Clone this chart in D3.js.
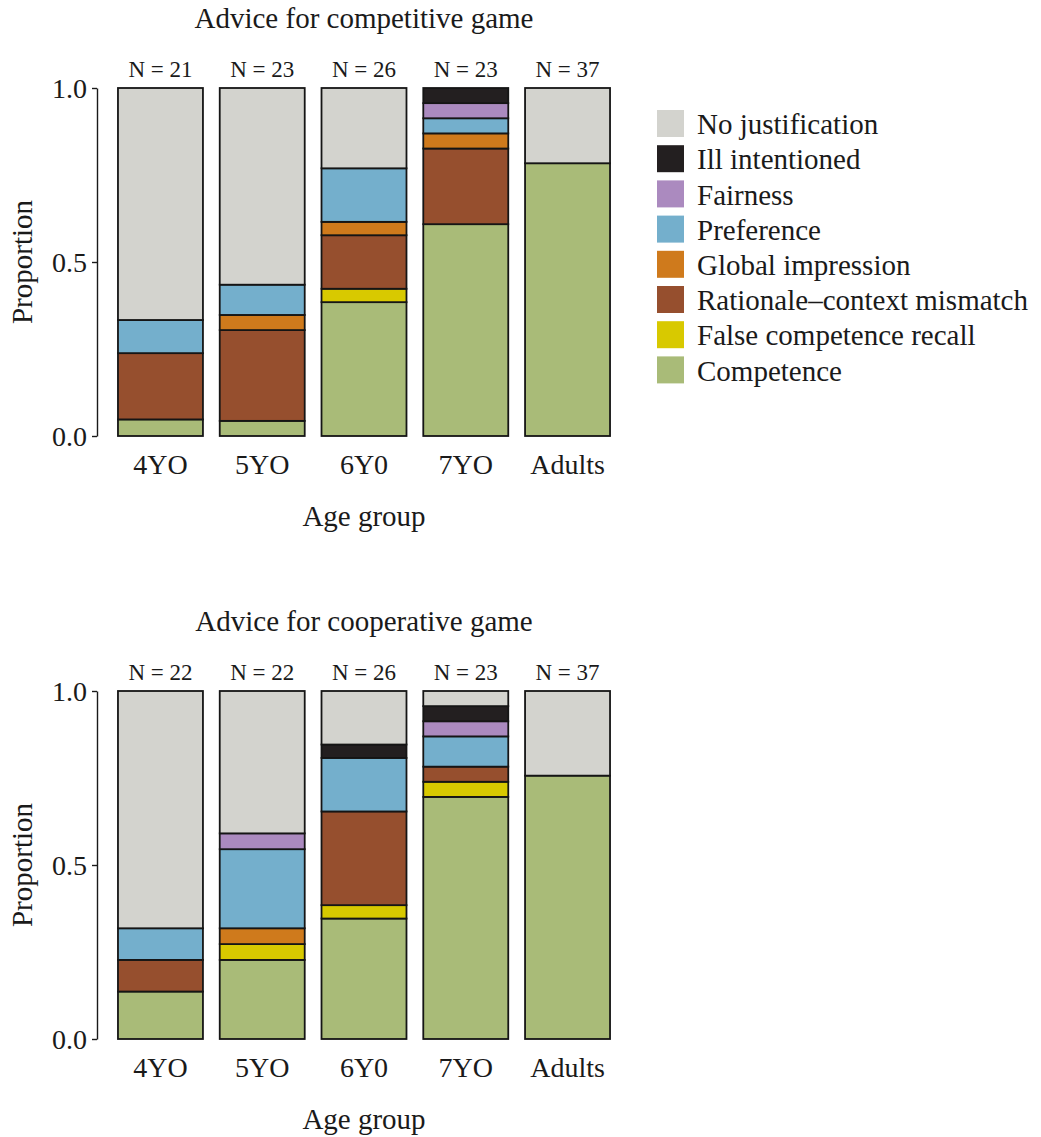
<!DOCTYPE html>
<html>
<head>
<meta charset="utf-8">
<script src="https://cdn.jsdelivr.net/npm/d3@7"></script>
<style>
  body { margin: 0; background: #fff; }
  svg text { font-family: "Liberation Serif", "Times New Roman", serif; fill: #1a1a1a; }
</style>
</head>
<body>
<div id="chart"></div>
<script>
// stack order, bottom to top
const categories = ["Competence", "False competence recall", "Rationale\u2013context mismatch",
  "Global impression", "Preference", "Fairness", "Ill intentioned", "No justification"];
const colors = ["#a9bb78", "#d8c900", "#964f2e", "#cf7a1c", "#74afcc", "#ab8abf", "#231f20", "#d3d3ce"];
const groups = ["4YO", "5YO", "6Y0", "7YO", "Adults"];
const yTicks = [0, 0.5, 1];

// counts per category, one value per age group
const competitive = {
  "Competence": [1, 1, 10, 14, 29],
  "False competence recall": [0, 0, 1, 0, 0],
  "Rationale\u2013context mismatch": [4, 6, 4, 5, 0],
  "Global impression": [0, 1, 1, 1, 0],
  "Preference": [2, 2, 4, 1, 0],
  "Fairness": [0, 0, 0, 1, 0],
  "Ill intentioned": [0, 0, 0, 1, 0],
  "No justification": [14, 13, 6, 0, 8]
};
const cooperative = {
  "Competence": [3, 5, 9, 16, 28],
  "False competence recall": [0, 1, 1, 1, 0],
  "Rationale\u2013context mismatch": [2, 0, 7, 1, 0],
  "Global impression": [0, 1, 0, 0, 0],
  "Preference": [2, 5, 4, 2, 0],
  "Fairness": [0, 1, 0, 1, 0],
  "Ill intentioned": [0, 0, 1, 1, 0],
  "No justification": [15, 9, 4, 1, 9]
};

const svg = d3.select("#chart").append("svg")
  .attr("width", 1041)
  .attr("height", 1137);

const color = d3.scaleOrdinal().domain(categories).range(colors);

const x = d3.scaleBand()
  .domain(groups)
  .range([97, 631])
  .paddingInner(0.165)
  .paddingOuter(0.206);

function drawPanel(counts, title, top) {
  const y = d3.scaleLinear().domain([0, 1]).range([top + 348, top]);
  const g = svg.append("g");

  const rows = groups.map((grp, i) => {
    const row = { group: grp };
    categories.forEach(c => row[c] = counts[c][i]);
    return row;
  });
  const totals = groups.map((grp, i) => d3.sum(categories, c => counts[c][i]));
  const series = d3.stack().keys(categories)(rows);

  series.forEach(s => {
    g.append("g")
      .selectAll("rect")
      .data(s.filter(d => d[1] > d[0]))
      .join("rect")
      .attr("x", d => x(d.data.group))
      .attr("width", x.bandwidth())
      .attr("y", d => y(d[1] / totals[groups.indexOf(d.data.group)]))
      .attr("height", d => {
        const t = totals[groups.indexOf(d.data.group)];
        return y(d[0] / t) - y(d[1] / t);
      })
      .attr("fill", color(s.key))
      .attr("stroke", "#151515")
      .attr("stroke-width", 1.8);
  });

  // N labels
  g.selectAll(".nlab")
    .data(groups)
    .join("text")
    .attr("x", d => x(d) + x.bandwidth() / 2)
    .attr("y", top - 11)
    .attr("text-anchor", "middle")
    .style("font-size", "23px")
    .text((d, i) => "N = " + totals[i]);

  // y axis
  const ax = g.append("g")
    .attr("transform", "translate(97,0)")
    .call(d3.axisLeft(y).tickValues(yTicks).tickFormat(d3.format(".1f")).tickSize(5).tickPadding(5).tickSizeOuter(0));
  ax.select(".domain").attr("stroke", "#1a1a1a").attr("stroke-width", 1.4);
  ax.selectAll(".tick line").attr("stroke", "#1a1a1a").attr("stroke-width", 1.4);
  ax.selectAll(".tick text").style("font-size", "28px").attr("dy", "0.34em").attr("fill", "#1a1a1a");

  // x labels
  const bx = g.append("g")
    .attr("transform", `translate(0,${top + 348})`)
    .call(d3.axisBottom(x).tickSize(0).tickPadding(18));
  bx.select(".domain").remove();
  bx.selectAll(".tick text").style("font-size", "28px").attr("fill", "#1a1a1a");

  g.append("text")
    .attr("x", 364)
    .attr("y", top - 60)
    .attr("text-anchor", "middle")
    .style("font-size", "29px")
    .text(title);

  g.append("text")
    .attr("x", 364)
    .attr("y", top + 438)
    .attr("text-anchor", "middle")
    .style("font-size", "29px")
    .text("Age group");

  g.append("text")
    .attr("transform", `translate(32,${top + 174}) rotate(-90)`)
    .attr("text-anchor", "middle")
    .style("font-size", "29px")
    .text("Proportion");
}

drawPanel(competitive, "Advice for competitive game", 88);
drawPanel(cooperative, "Advice for cooperative game", 691);

// legend, top to bottom
const legendKeys = categories.slice().reverse();
const legend = svg.append("g").attr("transform", "translate(657,110)");
const item = legend.selectAll("g")
  .data(legendKeys)
  .join("g")
  .attr("transform", (d, i) => `translate(0,${i * 35.2})`);
item.append("rect")
  .attr("width", 27)
  .attr("height", 27)
  .attr("fill", d => color(d));
item.append("text")
  .attr("x", 40)
  .attr("y", 14)
  .attr("dy", "0.35em")
  .style("font-size", "29px")
  .text(d => d);
</script>
</body>
</html>
